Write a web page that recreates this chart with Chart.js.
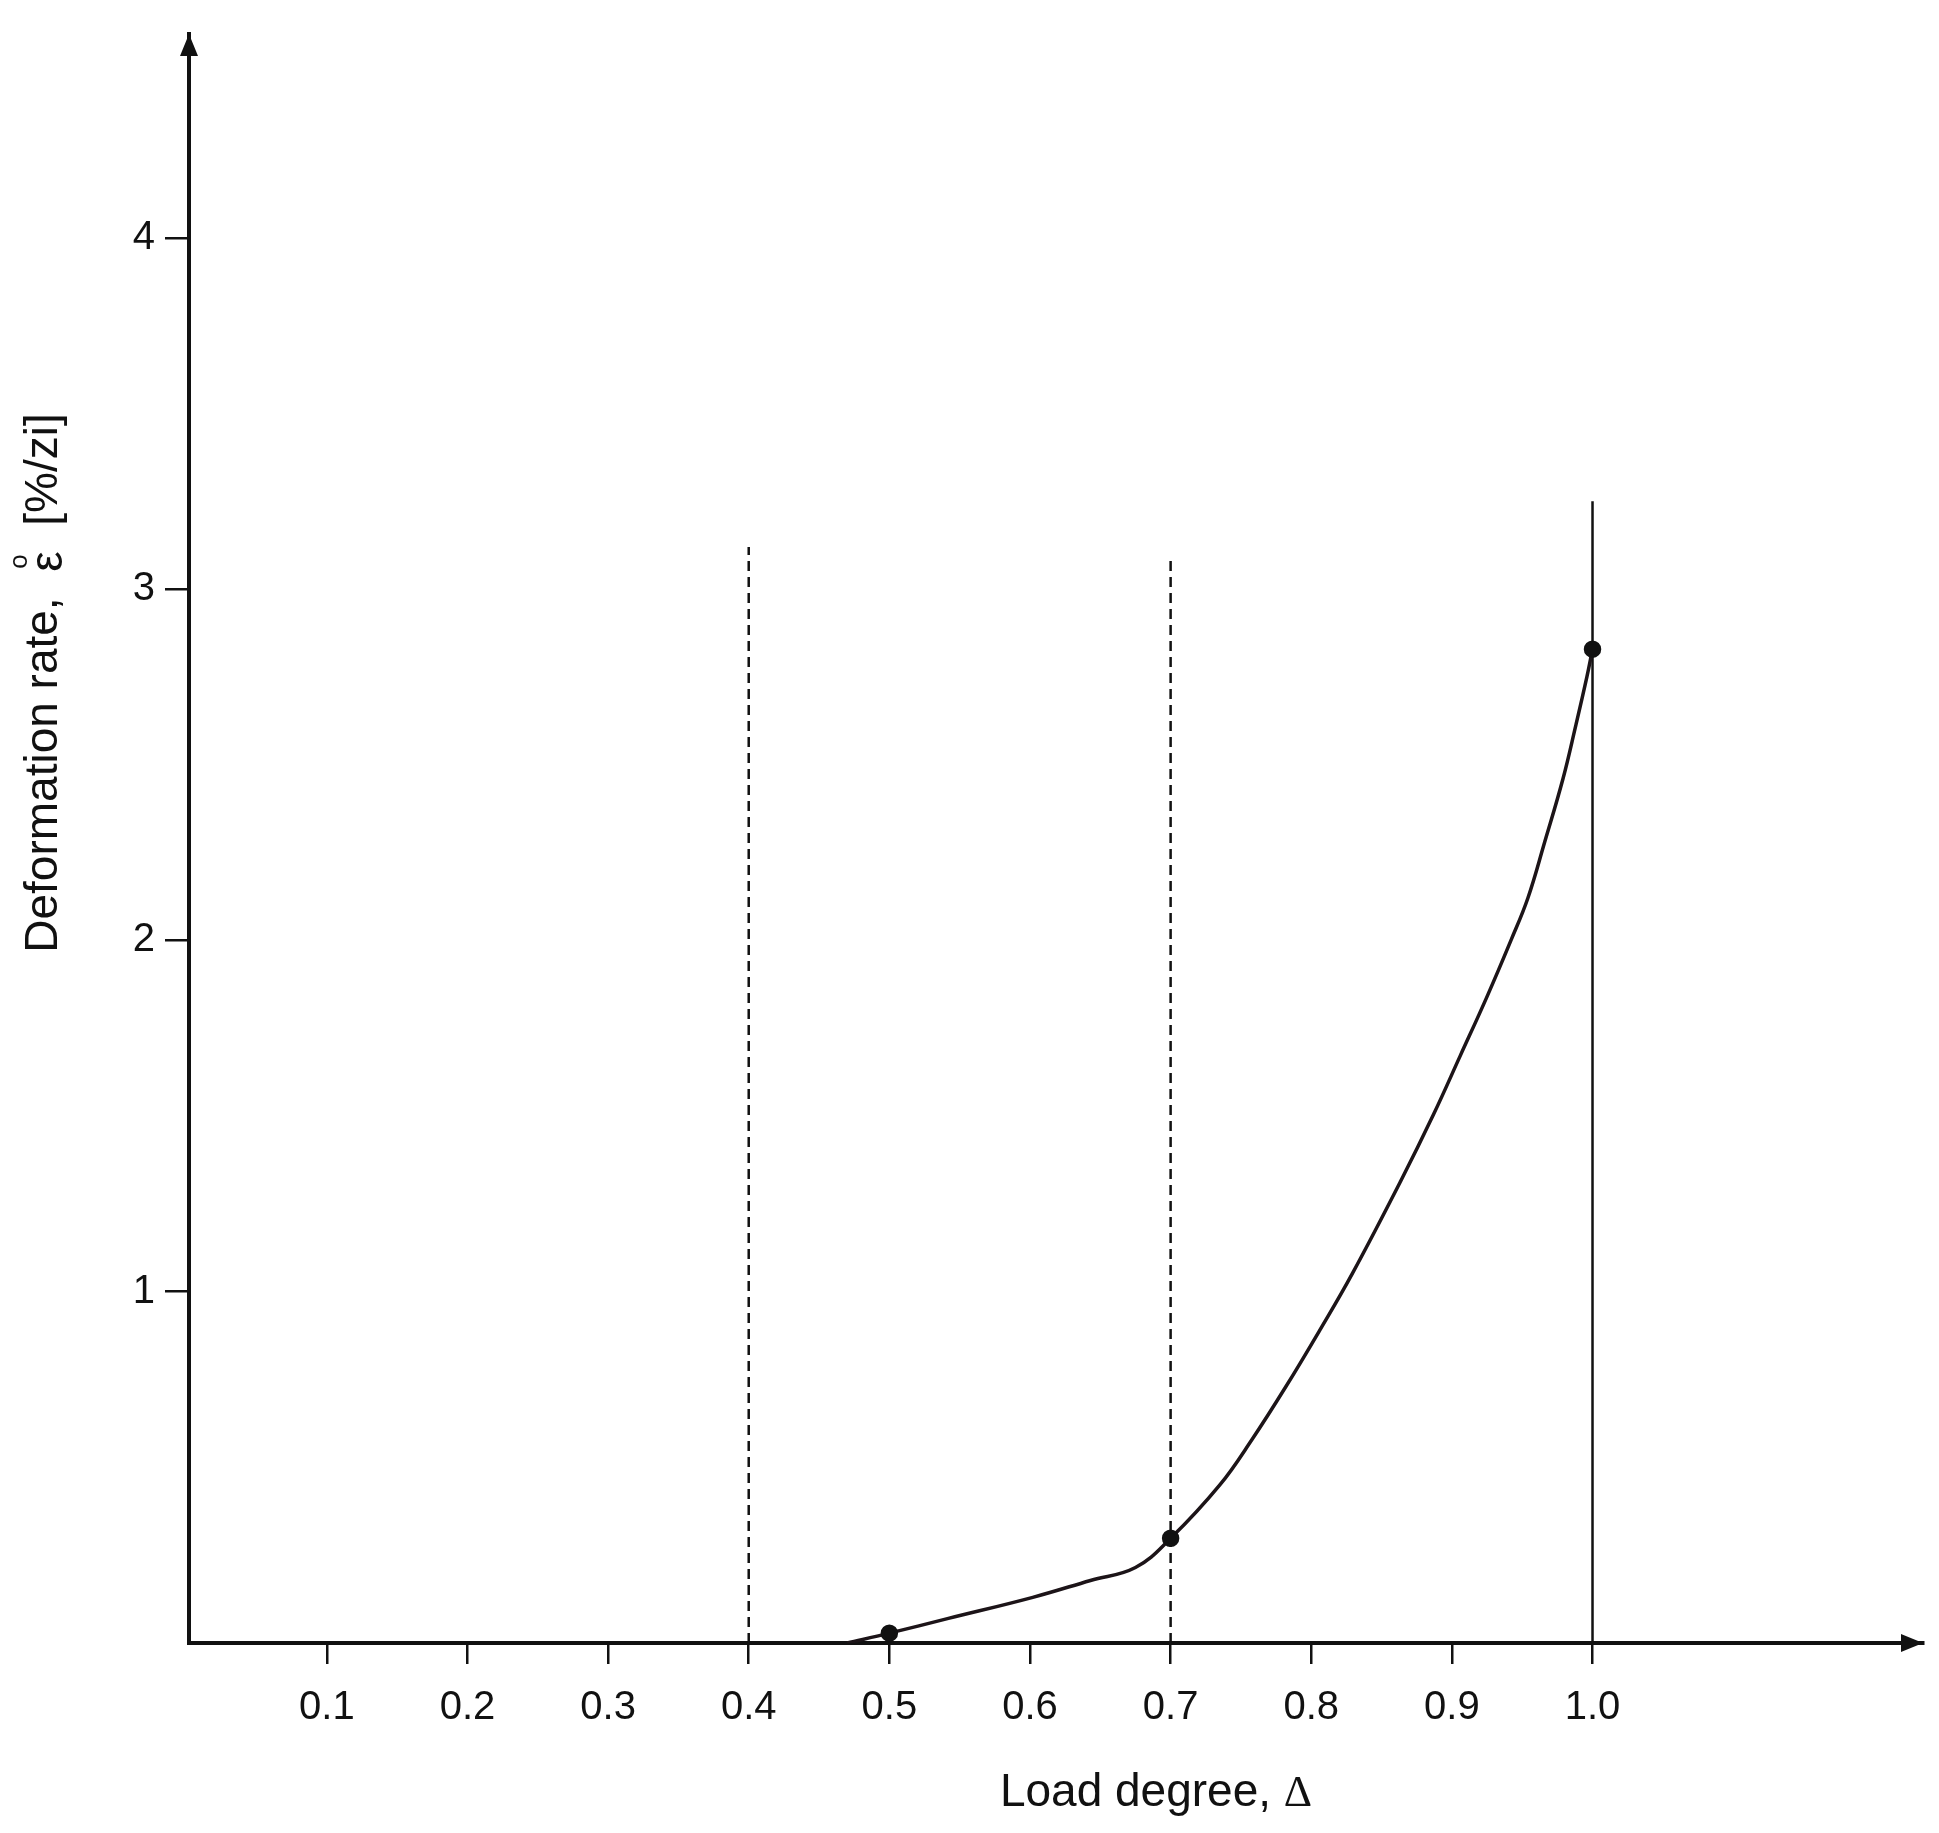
<!DOCTYPE html>
<html>
<head>
<meta charset="utf-8">
<title>Deformation rate vs load degree</title>
<script src="https://cdn.jsdelivr.net/npm/chart.js@4.4.1/dist/chart.umd.min.js"></script>
<style>
  html, body { margin: 0; padding: 0; background: #fff; }
  #wrap { width: 1939px; height: 1833px; }
</style>
</head>
<body>
<div id="wrap"><canvas id="chart" width="1939" height="1833"></canvas></div>
<script>
// curve: load degree (x) -> deformation rate (y)
const loadDegree = [0.47, 0.5, 0.542, 0.602, 0.643, 0.675, 0.7, 0.735, 0.758, 0.782, 0.806,
  0.829, 0.864, 0.887, 0.906, 0.925, 0.942, 0.954, 0.966, 0.979, 0.988, 0.996, 1.0];
const deformRate = [0, 0.028, 0.07, 0.13, 0.178, 0.215, 0.298, 0.45, 0.58, 0.73, 0.89,
  1.05, 1.318, 1.505, 1.672, 1.84, 2.0, 2.12, 2.28, 2.46, 2.61, 2.75, 2.829];
// the points that carry a dot
const markedLoads = [0.5, 0.7, 1.0];

// vertical limit lines (x position, height)
const dashedLimits = [0.4, 0.7];
const dashedTops = [3.12, 3.08];
const solidLimit = 1.0;
const solidTop = 3.25;

const xTickValues = [0.1, 0.2, 0.3, 0.4, 0.5, 0.6, 0.7, 0.8, 0.9, 1.0];
const xTickLabels = ['0.1', '0.2', '0.3', '0.4', '0.5', '0.6', '0.7', '0.8', '0.9', '1.0'];
const yTickValues = [1, 2, 3, 4];
const yTickLabels = ['1', '2', '3', '4'];

const SANS = "'Liberation Sans', Arial, sans-serif";
const INK = '#111';

// arrows at the axis ends and the two axis titles
const axisDecor = {
  id: 'axisDecor',
  afterDraw(chart) {
    const { ctx, chartArea: a } = chart;
    ctx.save();
    ctx.fillStyle = INK;

    ctx.beginPath();
    ctx.moveTo(a.left, a.top);
    ctx.lineTo(a.left - 9, a.top + 22);
    ctx.lineTo(a.left + 9, a.top + 22);
    ctx.closePath();
    ctx.fill();

    ctx.beginPath();
    ctx.moveTo(a.right, a.bottom);
    ctx.lineTo(a.right - 22, a.bottom - 9);
    ctx.lineTo(a.right - 22, a.bottom + 9);
    ctx.closePath();
    ctx.fill();

    // x title, the delta is a serif glyph
    const xMain = 'Load degree, ';
    ctx.font = '46px ' + SANS;
    const w1 = ctx.measureText(xMain).width;
    ctx.font = '44px "Liberation Serif", serif';
    const w2 = ctx.measureText('\u0394').width;
    const x0 = 1156 - (w1 + w2) / 2;
    ctx.textBaseline = 'alphabetic';
    ctx.textAlign = 'left';
    ctx.font = '46px ' + SANS;
    ctx.fillText(xMain, x0, 1806);
    ctx.font = '44px "Liberation Serif", serif';
    ctx.fillText('\u0394', x0 + w1, 1806);

    // y title, rotated, with a small ring over epsilon
    ctx.translate(57, 683);
    ctx.rotate(-Math.PI / 2);
    ctx.font = '46px ' + SANS;
    const p1 = 'Deformation rate,  ';
    const p2 = '\u03b5';
    const p3 = '  [%/zi]';
    const a1 = ctx.measureText(p1).width;
    const a2 = ctx.measureText(p2).width;
    const a3 = ctx.measureText(p3).width;
    const s = -(a1 + a2 + a3) / 2;
    ctx.fillText(p1, s, 0);
    ctx.fillText(p2, s + a1, 5);
    ctx.fillText(p3, s + a1 + a2, 0);
    ctx.font = '26px ' + SANS;
    ctx.textAlign = 'center';
    ctx.fillText('o', s + a1 + a2 / 2, -30);
    ctx.restore();
  }
};

const curve = loadDegree.map((x, i) => ({ x: x, y: deformRate[i] }));

const limitSets = dashedLimits.map((x, i) => ({
  data: [{ x: x, y: 0 }, { x: x, y: dashedTops[i] }],
  showLine: true,
  borderColor: INK,
  borderWidth: 2.5,
  borderDash: [10, 6],
  pointRadius: 0
}));
limitSets.push({
  data: [{ x: solidLimit, y: 0 }, { x: solidLimit, y: solidTop }],
  showLine: true,
  borderColor: INK,
  borderWidth: 2.5,
  pointRadius: 0
});

new Chart(document.getElementById('chart'), {
  type: 'scatter',
  data: {
    datasets: [
      {
        data: curve,
        showLine: true,
        borderColor: '#1c1418',
        borderWidth: 3.5,
        tension: 0.4,
        pointRadius: loadDegree.map(x => markedLoads.includes(x) ? 7 : 0),
        pointBackgroundColor: INK,
        pointBorderColor: INK
      },
      ...limitSets
    ]
  },
  options: {
    responsive: false,
    animation: false,
    layout: { padding: { top: 25, right: 16, left: 0, bottom: 0 } },
    plugins: { legend: { display: false }, tooltip: { enabled: false } },
    scales: {
      x: {
        type: 'linear',
        min: 0.002,
        max: 1.235,
        afterBuildTicks: scale => { scale.ticks = xTickValues.map(v => ({ value: v })); },
        afterFit: scale => { scale.height = 190; },
        ticks: {
          callback: (v, i) => xTickLabels[i],
          font: { family: SANS, size: 40 },
          color: INK,
          padding: 20,
          maxRotation: 0,
          autoSkip: false
        },
        grid: { drawOnChartArea: false, drawTicks: true, tickLength: 21, lineWidth: 2.5, color: INK },
        border: { display: true, color: INK, width: 4 }
      },
      y: {
        type: 'linear',
        min: 0,
        max: 4.58,
        afterBuildTicks: scale => { scale.ticks = yTickValues.map(v => ({ value: v })); },
        afterFit: scale => { scale.width = 189; },
        ticks: {
          callback: (v, i) => yTickLabels[i],
          font: { family: SANS, size: 40 },
          color: INK,
          padding: 10
        },
        grid: { drawOnChartArea: false, drawTicks: true, tickLength: 24, lineWidth: 2.5, color: INK },
        border: { display: true, color: INK, width: 4 }
      }
    }
  },
  plugins: [axisDecor]
});
</script>
</body>
</html>
